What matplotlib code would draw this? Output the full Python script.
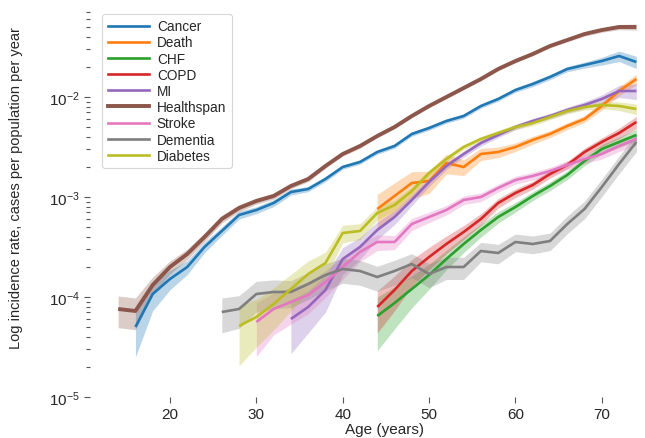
#!/usr/bin/env python3
"""Log incidence rate by age, one line + CI band per outcome."""
import matplotlib
matplotlib.use("Agg")
import matplotlib.pyplot as plt
from matplotlib.lines import Line2D
import numpy as np

plt.rcParams["font.family"] = ["Liberation Sans", "DejaVu Sans"]

# --- data (log10 of cases per population per year) ---
AGES_HEALTHSPAN = [14, 16, 18, 20, 22, 24, 26, 28, 30, 32, 34, 36, 38, 40, 42, 44,
                   46, 48, 50, 52, 54, 56, 58, 60, 62, 64, 66, 68, 70, 72, 74]
LOG_HEALTHSPAN = [-4.12, -4.14, -3.88, -3.70, -3.57, -3.40, -3.22, -3.11, -3.04, -2.99,
                  -2.89, -2.82, -2.69, -2.57, -2.49, -2.39, -2.30, -2.19, -2.09, -2.00,
                  -1.91, -1.82, -1.72, -1.64, -1.57, -1.49, -1.43, -1.37, -1.33, -1.30, -1.30]
CI_HEALTHSPAN = [0.35, 0.35, 0.20, 0.15, 0.12, 0.10, 0.09, 0.08, 0.07, 0.07, 0.06, 0.06,
                 0.05, 0.05, 0.05, 0.04, 0.04, 0.04, 0.04, 0.04, 0.04, 0.04, 0.04, 0.04,
                 0.04, 0.04, 0.04, 0.05, 0.05, 0.06, 0.07]

AGES_CANCER = [16, 18, 20, 22, 24, 26, 28, 30, 32, 34, 36, 38, 40, 42, 44, 46, 48, 50,
               52, 54, 56, 58, 60, 62, 64, 66, 68, 70, 72, 74]
LOG_CANCER = [-4.30, -3.97, -3.82, -3.70, -3.50, -3.34, -3.18, -3.13, -3.06, -2.95,
              -2.92, -2.82, -2.70, -2.65, -2.55, -2.49, -2.37, -2.31, -2.24, -2.19,
              -2.09, -2.02, -1.93, -1.87, -1.80, -1.72, -1.68, -1.64, -1.59, -1.65]
CI_CANCER = [0.50, 0.32, 0.22, 0.16, 0.12, 0.10, 0.09, 0.08, 0.08, 0.07, 0.06, 0.06,
             0.05, 0.05, 0.05, 0.05, 0.05, 0.05, 0.05, 0.05, 0.05, 0.05, 0.05, 0.06,
             0.06, 0.06, 0.07, 0.09, 0.12, 0.14]

AGES_DEMENTIA = [26, 28, 30, 32, 34, 36, 38, 40, 42, 44, 46, 48, 50, 52, 54, 56, 58, 60,
                 62, 64, 66, 68, 70, 72, 74]
LOG_DEMENTIA = [-4.15, -4.12, -3.97, -3.95, -3.95, -3.87, -3.78, -3.72, -3.74, -3.80,
                -3.74, -3.67, -3.77, -3.70, -3.70, -3.54, -3.56, -3.45, -3.47, -3.44,
                -3.27, -3.12, -2.90, -2.67, -2.45]
CI_DEMENTIA = [0.38, 0.36, 0.34, 0.32, 0.30, 0.30, 0.30, 0.28, 0.28, 0.28, 0.28, 0.27,
               0.27, 0.25, 0.25, 0.22, 0.22, 0.20, 0.20, 0.20, 0.20, 0.20, 0.20, 0.20, 0.20]

AGES_DIABETES = [28, 30, 32, 34, 36, 38, 40, 42, 44, 46, 48, 50, 52, 54, 56, 58, 60, 62,
                 64, 66, 68, 70, 72, 74]
LOG_DIABETES = [-4.29, -4.20, -4.07, -3.92, -3.77, -3.66, -3.36, -3.34, -3.16, -3.08,
                -2.94, -2.76, -2.62, -2.50, -2.42, -2.36, -2.30, -2.26, -2.20, -2.14,
                -2.10, -2.08, -2.09, -2.12]
CI_DIABETES = [0.60, 0.50, 0.45, 0.40, 0.35, 0.28, 0.20, 0.18, 0.15, 0.12, 0.10, 0.08,
               0.07, 0.06, 0.06, 0.06, 0.06, 0.06, 0.06, 0.06, 0.07, 0.08, 0.10, 0.12]

AGES_STROKE = [30, 32, 34, 36, 38, 40, 42, 44, 46, 48, 50, 52, 54, 56, 58, 60, 62, 64,
               66, 68, 70, 72, 74]
LOG_STROKE = [-4.25, -4.12, -4.05, -3.98, -3.85, -3.70, -3.55, -3.45, -3.45, -3.27,
              -3.20, -3.13, -3.03, -3.00, -2.91, -2.83, -2.79, -2.74, -2.68, -2.62,
              -2.57, -2.49, -2.42]
CI_STROKE = [0.55, 0.45, 0.40, 0.35, 0.30, 0.25, 0.20, 0.18, 0.16, 0.14, 0.12, 0.11,
             0.10, 0.10, 0.09, 0.09, 0.09, 0.09, 0.10, 0.10, 0.11, 0.12, 0.14]

AGES_MI = [34, 36, 38, 40, 42, 44, 46, 48, 50, 52, 54, 56, 58, 60, 62, 64, 66, 68, 70, 72, 74]
LOG_MI = [-4.22, -4.10, -3.93, -3.62, -3.50, -3.33, -3.20, -3.03, -2.85, -2.69, -2.57,
          -2.46, -2.38, -2.30, -2.24, -2.19, -2.13, -2.08, -2.02, -1.94, -1.94]
CI_MI = [0.55, 0.45, 0.40, 0.30, 0.25, 0.20, 0.16, 0.12, 0.10, 0.08, 0.07, 0.07, 0.06,
         0.06, 0.06, 0.06, 0.07, 0.08, 0.10, 0.14, 0.18]

AGES_LATE = [44, 46, 48, 50, 52, 54, 56, 58, 60, 62, 64, 66, 68, 70, 72, 74]
LOG_DEATH = [-3.12, -2.99, -2.86, -2.84, -2.66, -2.70, -2.57, -2.55, -2.50, -2.43,
             -2.37, -2.29, -2.22, -2.09, -1.94, -1.82]
CI_DEATH = [0.40, 0.35, 0.30, 0.25, 0.22, 0.18, 0.14, 0.12, 0.10, 0.09, 0.08, 0.08,
            0.08, 0.09, 0.10, 0.12]
LOG_COPD = [-4.10, -3.93, -3.74, -3.60, -3.47, -3.35, -3.22, -3.06, -2.96, -2.88,
            -2.77, -2.68, -2.55, -2.45, -2.36, -2.25]
CI_COPD = [0.45, 0.38, 0.30, 0.25, 0.20, 0.16, 0.13, 0.11, 0.10, 0.09, 0.09, 0.09,
           0.09, 0.10, 0.12, 0.14]
LOG_CHF = [-4.19, -4.06, -3.92, -3.78, -3.62, -3.47, -3.33, -3.20, -3.10, -2.99,
           -2.89, -2.78, -2.64, -2.52, -2.45, -2.38]
CI_CHF = [0.55, 0.45, 0.35, 0.28, 0.22, 0.18, 0.15, 0.13, 0.11, 0.10, 0.10, 0.10,
          0.10, 0.11, 0.12, 0.14]

# legend order
SERIES = [
    ("Cancer", AGES_CANCER, LOG_CANCER, CI_CANCER, "#1f77b4"),
    ("Death", AGES_LATE, LOG_DEATH, CI_DEATH, "#ff7f0e"),
    ("CHF", AGES_LATE, LOG_CHF, CI_CHF, "#2ca02c"),
    ("COPD", AGES_LATE, LOG_COPD, CI_COPD, "#d62728"),
    ("MI", AGES_MI, LOG_MI, CI_MI, "#9467bd"),
    ("Healthspan", AGES_HEALTHSPAN, LOG_HEALTHSPAN, CI_HEALTHSPAN, "#8c564b"),
    ("Stroke", AGES_STROKE, LOG_STROKE, CI_STROKE, "#e377c2"),
    ("Dementia", AGES_DEMENTIA, LOG_DEMENTIA, CI_DEMENTIA, "#7f7f7f"),
    ("Diabetes", AGES_DIABETES, LOG_DIABETES, CI_DIABETES, "#bcbd22"),
]

TXT = "#262626"

fig = plt.figure(figsize=(6.45, 4.39), dpi=100)
ax = fig.add_axes([90 / 645, 41 / 439, 555 / 645, 388 / 439])

handles = []
for name, ages, logv, ci, color in SERIES:
    x = np.array(ages, dtype=float)
    v = 10.0 ** np.array(logv)
    r = np.array(ci)
    lw = 2.8 if name == "Healthspan" else 1.9
    ax.fill_between(x, v * (1 - r), v * (1 + r), color=color, alpha=0.3, linewidth=0)
    ax.plot(x, v, color=color, lw=lw, solid_capstyle="butt")
    handles.append(Line2D([], [], color=color, lw=lw, label=name))

ax.set_yscale("log")
ax.set_ylim(1e-5, 10 ** -1.12)
ax.set_xlim(10.74, 75.0)
ax.set_xticks([20, 30, 40, 50, 60, 70])

for s in ax.spines.values():
    s.set_visible(False)
ax.tick_params(axis="both", which="major", labelsize=11, labelcolor=TXT,
               color="#555555", length=4, width=0.8)
ax.tick_params(axis="y", which="minor", color="#555555", length=3, width=0.8)
ax.tick_params(axis="x", pad=3)

ax.set_xlabel("Age (years)", fontsize=11, color=TXT, labelpad=2)
ax.xaxis.set_label_coords(0.53, -0.065)
ax.set_ylabel("Log incidence rate, cases per population per year", fontsize=10.5,
              color=TXT, labelpad=8)
ax.yaxis.set_label_coords(-0.12, 0.54)

leg = ax.legend(handles=handles, loc="upper left", bbox_to_anchor=(0.01, 1.005),
                fontsize=9.8, frameon=True, handlelength=3.0, labelspacing=0.16,
                handletextpad=0.6, borderpad=0.4, fancybox=True)
leg.get_frame().set_edgecolor("#cccccc")
leg.get_frame().set_linewidth(0.8)
for t in leg.get_texts():
    t.set_color(TXT)

fig.savefig("out.png", dpi=100, facecolor="white")
